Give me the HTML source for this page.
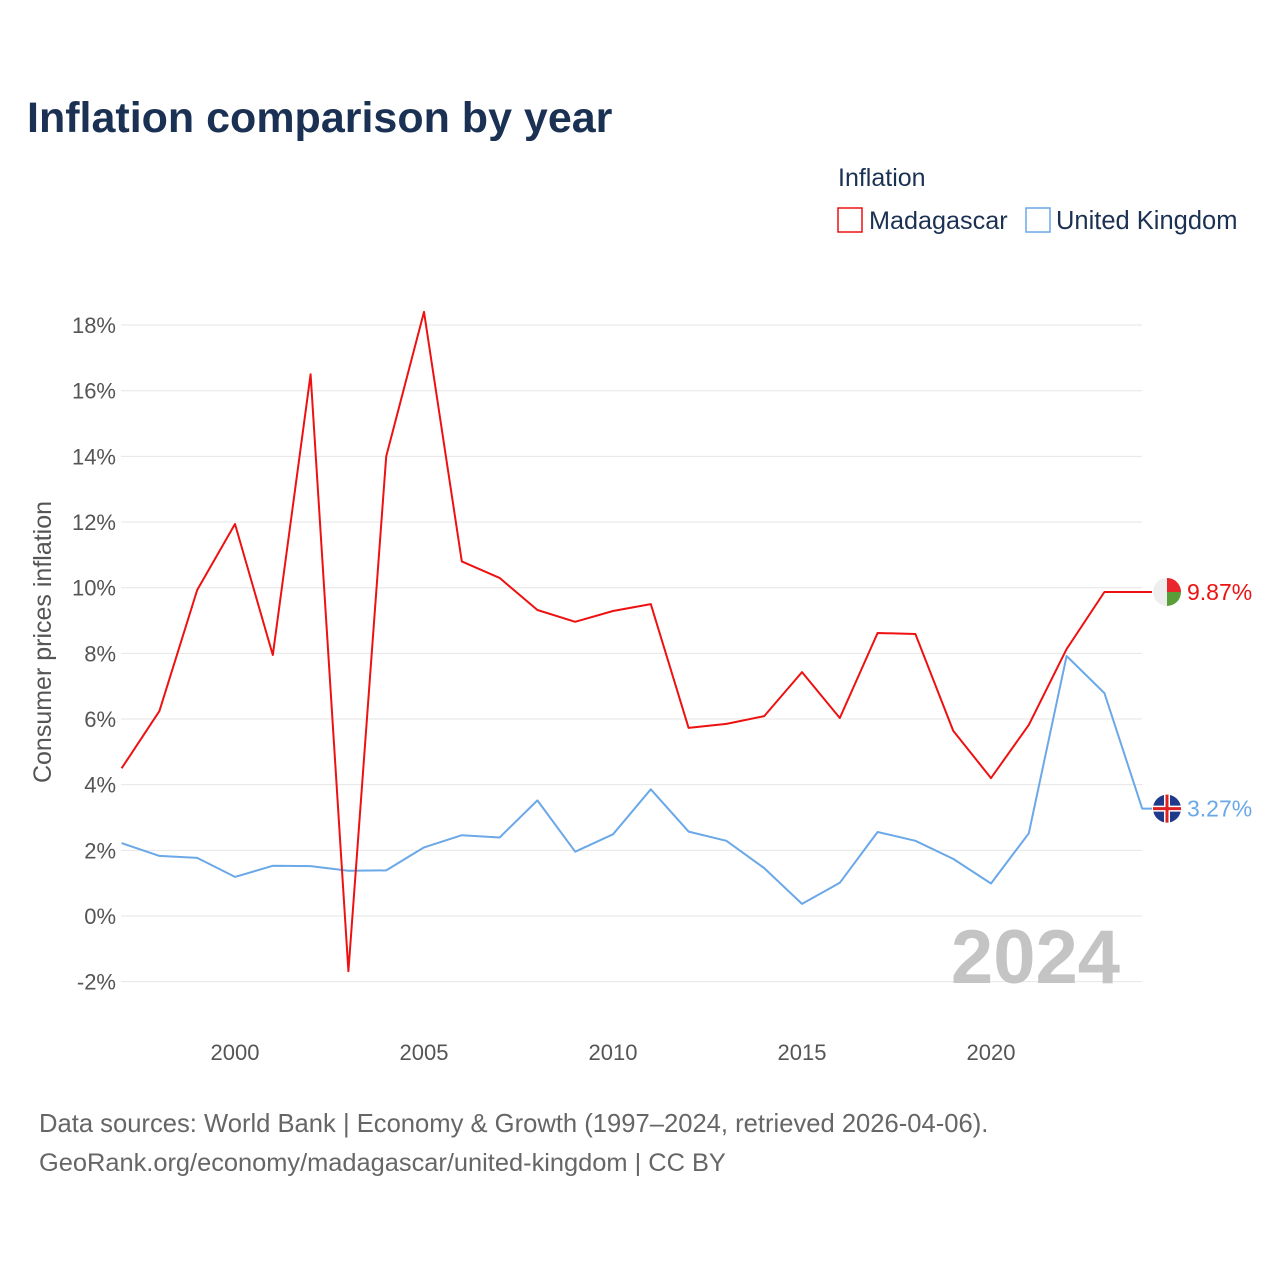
<!DOCTYPE html>
<html><head><meta charset="utf-8"><style>
body{margin:0;background:#fff;font-family:"Liberation Sans",sans-serif;}
#wrap{position:relative;width:1280px;height:1280px;overflow:hidden;}
</style></head><body>
<div id="wrap">
<svg id="chart" width="1280" height="1280" xmlns="http://www.w3.org/2000/svg">
<text x="27" y="132" font-size="43" font-weight="bold" fill="#1b3153">Inflation comparison by year</text>
<text x="838" y="186" font-size="25" fill="#1b3153">Inflation</text>
<g>
<rect x="838" y="208" width="24" height="24" fill="none" stroke="#ee1111" stroke-width="1.5"/>
<text x="869" y="229" font-size="25.2" fill="#1b3153">Madagascar</text></g>
<g>
<rect x="1026" y="208" width="24" height="24" fill="none" stroke="#6aa8e8" stroke-width="1.5"/>
<text x="1056" y="229" font-size="25.5" fill="#1b3153">United Kingdom</text></g>
<g id="grid"></g><g id="xt"></g>
<text transform="translate(51,642) rotate(-90)" text-anchor="middle" font-size="25" fill="#555">Consumer prices inflation</text>
<text x="1120" y="983" text-anchor="end" font-size="76" font-weight="bold" fill="#c4c4c4">2024</text>
<g id="series"></g>
<text x="39" y="1132" font-size="25.6" fill="#666">Data sources: World Bank | Economy &amp; Growth (1997–2024, retrieved 2026-04-06).</text>
<text x="39" y="1171" font-size="25.4" fill="#666">GeoRank.org/economy/madagascar/united-kingdom | CC BY</text>
</svg></div>
<script>
const years=[1997,1998,1999,2000,2001,2002,2003,2004,2005,2006,2007,2008,2009,2010,2011,2012,2013,2014,2015,2016,2017,2018,2019,2020,2021,2022,2023,2024];
const madagascar=[4.5,6.24,9.93,11.94,7.95,16.5,-1.68,14.0,18.4,10.8,10.3,9.32,8.96,9.29,9.5,5.73,5.85,6.09,7.43,6.03,8.62,8.59,5.64,4.2,5.82,8.13,9.87,9.87];
const uk=[2.22,1.83,1.77,1.19,1.53,1.52,1.38,1.39,2.09,2.46,2.39,3.52,1.96,2.49,3.86,2.57,2.29,1.46,0.37,1.01,2.56,2.29,1.74,0.99,2.52,7.92,6.79,3.27];
const yTicks=[-2,0,2,4,6,8,10,12,14,16,18];
const xTicks=[2000,2005,2010,2015,2020];
const NS="http://www.w3.org/2000/svg";
const x=v=>121.6+(v-1997)*37.8;
const y=v=>916-v*32.83;
function mk(t,a,p){const e=document.createElementNS(NS,t);for(const k in a)e.setAttribute(k,a[k]);p.appendChild(e);return e;}
const grid=document.getElementById('grid');
yTicks.forEach(t=>{
 const l=mk('line',{x1:121,x2:1142,y1:y(t),y2:y(t),stroke:'#e6e6e6','stroke-width':1},grid);
 
 
 const tx=mk('text',{x:116,y:y(t)+8,'text-anchor':'end','font-size':22,fill:'#555'},grid);
 tx.textContent=t+'%';
 
 
});
const xt=document.getElementById('xt');
xTicks.forEach(t=>{
 const tx=mk('text',{x:x(t),y:1060,'text-anchor':'middle','font-size':22,fill:'#555'},xt);
 tx.textContent=t;
 
 
});
const sg=document.getElementById('series');
function line(vals,color,name){
 const pts=vals.map((v,i)=>x(years[i]).toFixed(1)+','+y(v).toFixed(1));
 const last=vals[vals.length-1];
 pts.push('1152,'+y(last).toFixed(1));
 const p=mk('polyline',{points:pts.join(' '),fill:'none',stroke:color,'stroke-width':2,'stroke-linejoin':'round'},sg);
 
 
 const cy=y(last);
 const c=mk('circle',{cx:1167,cy:cy,r:14,fill:name==='madagascar'?'#eee':'#1f3a8a'},sg);
 
 
 if(name==='madagascar'){
  mk('path',{d:`M1167 ${cy} L1167 ${cy-14} A14 14 0 0 1 1181 ${cy} Z`,fill:'#e8262b'},sg);
  mk('path',{d:`M1167 ${cy} L1181 ${cy} A14 14 0 0 1 1167 ${cy+14} Z`,fill:'#5a9e3a'},sg);
 } else {
  mk('path',{d:`M1153 ${cy} H1181 M1167 ${cy-14} V${cy+14}`,stroke:'#fff','stroke-width':6},sg);
  mk('path',{d:`M1153 ${cy} H1181 M1167 ${cy-14} V${cy+14}`,stroke:'#d22','stroke-width':3},sg);
 }
 const lb=mk('text',{x:1187,y:cy+8,'font-size':23,fill:color},sg);
 lb.textContent=last.toFixed(2)+'%';
 
 
}
line(uk,'#6aa8e8','united-kingdom');
line(madagascar,'#ee1111','madagascar');
</script>
</body></html>
